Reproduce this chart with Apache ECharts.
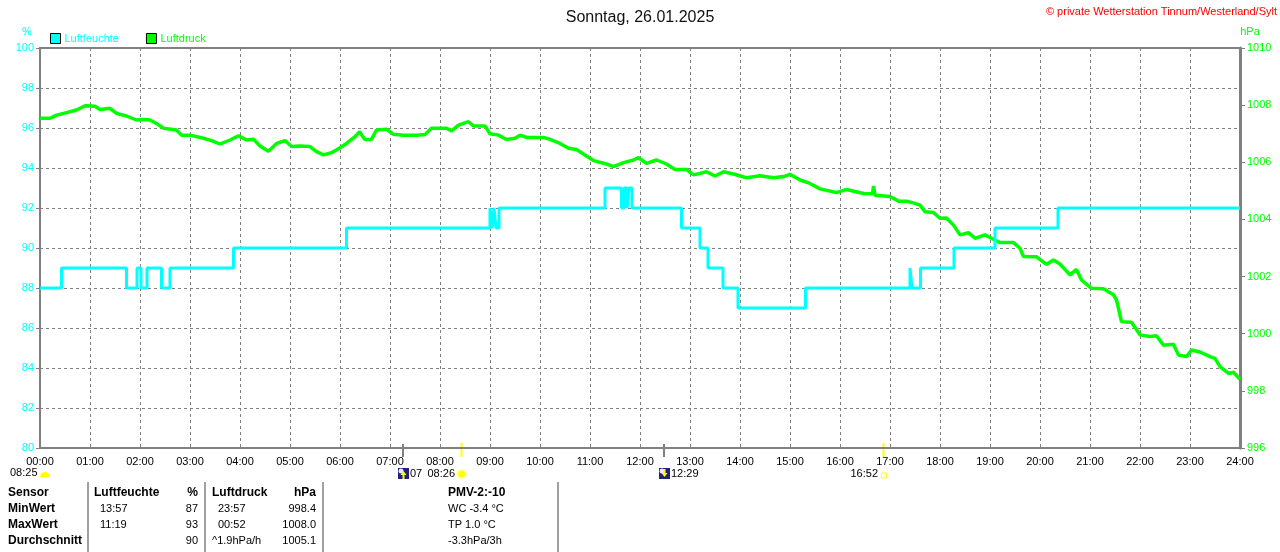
<!DOCTYPE html>
<html>
<head>
<meta charset="utf-8">
<script src="https://cdn.jsdelivr.net/npm/echarts@6/dist/echarts.min.js"></script>
<style>
  html, body { margin: 0; padding: 0; background: #fff; }
  #chart { width: 1280px; height: 552px; }
</style>
</head>
<body>
<div id="chart"></div>
<script>
// x-axis labels (hours)
var hourLabels = ["00:00", "01:00", "02:00", "03:00", "04:00", "05:00", "06:00", "07:00", "08:00",
  "09:00", "10:00", "11:00", "12:00", "13:00", "14:00", "15:00", "16:00", "17:00", "18:00",
  "19:00", "20:00", "21:00", "22:00", "23:00", "24:00"];

// Luftfeuchte (%) - value starts at given hour
var humTime = [0, 0.43, 1.73, 1.94, 2.02, 2.14, 2.43, 2.6, 3.87, 6.13, 9.0, 9.04, 9.08, 9.12, 9.18,
  11.3, 11.63, 11.68, 11.74, 11.78, 11.84, 12.83, 13.2, 13.36, 13.66, 13.96, 15.31,
  17.4, 17.44, 17.61, 18.28, 19.1, 20.36, 24];
var humValue = [88, 89, 88, 89, 88, 89, 88, 89, 90, 91, 92, 91, 92, 91, 92,
  93, 92, 93, 92, 93, 92, 91, 90, 89, 88, 87, 88,
  89, 88, 89, 90, 91, 92, 92];

// Luftdruck (hPa)
var presTime = [0, 0.2, 0.33, 0.47, 0.73, 0.9, 1.1, 1.2, 1.4, 1.53, 1.73, 1.93, 2.07, 2.2, 2.33, 2.47,
  2.73, 2.83, 3.0, 3.27, 3.43, 3.6, 3.8, 3.97, 4.13, 4.27, 4.4, 4.57, 4.73, 4.9, 5.03, 5.2, 5.4,
  5.53, 5.67, 5.83, 5.93, 6.13, 6.3, 6.39, 6.5, 6.63, 6.73, 6.93, 7.07, 7.27, 7.53, 7.7, 7.83,
  8.13, 8.23, 8.37, 8.57, 8.67, 8.9, 9.0, 9.17, 9.33, 9.5, 9.6, 9.73, 10.07, 10.2, 10.4, 10.57,
  10.73, 10.93, 11.07, 11.33, 11.47, 11.67, 11.87, 11.97, 12.13, 12.33, 12.53, 12.7, 12.93,
  13.07, 13.33, 13.5, 13.67, 13.87, 14.13, 14.4, 14.67, 14.87, 15.0, 15.2, 15.4, 15.6, 15.93,
  16.13, 16.47, 16.65, 16.67, 16.7, 17.0, 17.17, 17.33, 17.5, 17.6, 17.7, 17.87, 18.0, 18.13,
  18.27, 18.4, 18.57, 18.7, 18.9, 19.03, 19.2, 19.47, 19.6, 19.67, 19.93, 20.13, 20.27, 20.4,
  20.6, 20.73, 20.83, 21.03, 21.27, 21.47, 21.53, 21.63, 21.83, 22.0, 22.2, 22.33, 22.47,
  22.67, 22.77, 22.93, 23.03, 23.2, 23.4, 23.5, 23.6, 23.77, 23.87, 24.0];
var presValue = [1007.54, 1007.54, 1007.65, 1007.71, 1007.83, 1007.98, 1007.96, 1007.85, 1007.89,
  1007.71, 1007.62, 1007.48, 1007.5, 1007.48, 1007.36, 1007.19, 1007.13, 1006.95, 1006.95,
  1006.84, 1006.76, 1006.64, 1006.78, 1006.93, 1006.78, 1006.81, 1006.57, 1006.39, 1006.66,
  1006.76, 1006.55, 1006.57, 1006.55, 1006.37, 1006.26, 1006.34, 1006.43, 1006.66, 1006.9,
  1007.07, 1006.8, 1006.8, 1007.13, 1007.16, 1006.98, 1006.95, 1006.95, 1006.97, 1007.19,
  1007.19, 1007.1, 1007.3, 1007.42, 1007.27, 1007.27, 1007.0, 1006.95, 1006.8, 1006.84,
  1006.95, 1006.87, 1006.87, 1006.8, 1006.66, 1006.49, 1006.45, 1006.22, 1006.06, 1005.94,
  1005.85, 1005.99, 1006.08, 1006.16, 1005.96, 1006.08, 1005.94, 1005.75, 1005.75, 1005.56,
  1005.67, 1005.52, 1005.67, 1005.59, 1005.46, 1005.53, 1005.46, 1005.5, 1005.58, 1005.38,
  1005.26, 1005.07, 1004.94, 1005.05, 1004.91, 1004.9, 1005.17, 1004.85, 1004.8, 1004.64,
  1004.64, 1004.56, 1004.5, 1004.27, 1004.24, 1004.04, 1004.05, 1003.8, 1003.46, 1003.54,
  1003.34, 1003.46, 1003.34, 1003.19, 1003.19, 1002.99, 1002.7, 1002.69, 1002.43, 1002.58,
  1002.44, 1002.06, 1002.25, 1001.88, 1001.59, 1001.57, 1001.36, 1001.18, 1000.42, 1000.4,
  999.96, 999.9, 999.93, 999.6, 999.63, 999.25, 999.2, 999.43, 999.36, 999.2, 999.14,
  998.85, 998.61, 998.65, 998.4];

// Mond-/Sonnenmarken auf der Zeitachse
var astroTime = [7.26, 8.43, 12.48, 16.87];
var astroColor = ["#808080", "#ffff00", "#808080", "#ffff00"];

// Tabelle unten
var colSensor = ["Sensor", "MinWert", "MaxWert", "Durchschnitt"];
var colHumTime = ["Luftfeuchte", "13:57", "11:19", ""];
var colHumVal = ["%", "87", "93", "90"];
var colPresTime = ["Luftdruck", "23:57", "00:52", "^1.9hPa/h"];
var colPresVal = ["hPa", "998.4", "1008.0", "1005.1"];
var colInfo = ["PMV-2:-10", "WC -3.4 \u00b0C", "TP 1.0 \u00b0C", "-3.3hPa/3h"];

var FONT = "'Liberation Sans', Arial, sans-serif";
var chart = echarts.init(document.getElementById("chart"));

function zip(a, b) {
  return a.map(function(v, i) { return [v, b[i]]; });
}

chart.setOption({
  animation: false,
  backgroundColor: "#fff",
  textStyle: { fontFamily: FONT },
  title: {
    text: "Sonntag, 26.01.2025",
    left: "center",
    top: 5,
    textStyle: { fontSize: 16, fontWeight: "normal", color: "#111", fontFamily: FONT }
  },
  legend: {
    left: 50,
    top: 33,
    padding: 0,
    icon: "rect",
    itemWidth: 10,
    itemHeight: 10,
    itemGap: 27,
    itemStyle: { borderColor: "#000", borderWidth: 1 },
    textStyle: { fontSize: 11, fontFamily: FONT, padding: [0, 0, 0, -1] },
    data: [
      { name: "Luftfeuchte", textStyle: { color: "#00ffff" } },
      { name: "Luftdruck", textStyle: { color: "#00ff00" } }
    ]
  },
  grid: {
    left: 40,
    right: 40,
    top: 48,
    bottom: 104,
    show: true,
    borderColor: "#808080",
    borderWidth: 2
  },
  xAxis: {
    type: "value",
    min: 0,
    max: 24,
    interval: 1,
    axisLine: { lineStyle: { color: "#808080", width: 2 } },
    axisTick: { show: false },
    axisLabel: {
      color: "#000",
      fontSize: 11,
      margin: 8,
      fontFamily: FONT,
      formatter: function(v) { return hourLabels[v]; }
    },
    splitLine: { show: true, lineStyle: { color: "#808080", type: [3, 3], width: 1 } }
  },
  yAxis: [
    {
      type: "value",
      position: "left",
      min: 80,
      max: 100,
      interval: 2,
      axisLine: { show: true, lineStyle: { color: "#808080", width: 2 } },
      axisTick: { show: true, length: 4, lineStyle: { color: "#808080" } },
      axisLabel: { color: "#00ffff", fontSize: 11, margin: 6, fontFamily: FONT },
      splitLine: { show: true, lineStyle: { color: "#808080", type: [3, 3], width: 1 } }
    },
    {
      type: "value",
      position: "right",
      min: 996,
      max: 1010,
      interval: 2,
      axisLine: { show: true, lineStyle: { color: "#808080", width: 3 } },
      axisTick: { show: true, length: 5, lineStyle: { color: "#808080" } },
      axisLabel: {
        color: "#00ff00", fontSize: 11, margin: 7, fontFamily: FONT,
        formatter: function(v) { return String(v); }
      },
      splitLine: { show: false }
    }
  ],
  series: [
    {
      name: "Luftdruck",
      type: "line",
      yAxisIndex: 1,
      showSymbol: false,
      color: "#00ff00",
      lineStyle: { color: "#00ff00", width: 3.5 },
      data: zip(presTime, presValue)
    },
    {
      name: "Luftfeuchte",
      type: "line",
      yAxisIndex: 0,
      step: "end",
      showSymbol: false,
      color: "#00ffff",
      lineStyle: { color: "#00ffff", width: 3 },
      data: zip(humTime, humValue)
    }
  ]
});

// Zusatzgrafik: Achsentitel, Copyright, Mond/Sonne, Tabelle
function txt(s, x, y, opt) {
  opt = opt || {};
  return {
    type: "text",
    silent: true,
    style: {
      text: s,
      x: x,
      y: y,
      fill: opt.color || "#000",
      font: (opt.bold ? "bold 12px " : "11px ") + FONT,
      align: opt.align || "left",
      verticalAlign: "middle"
    }
  };
}

var g = [];
g.push(txt("%", 27, 32, { color: "#00ffff", align: "center" }));
g.push(txt("hPa", 1250, 32, { color: "#00ff00", align: "center" }));
g.push(txt("\u00a9 private Wetterstation Tinnum/Westerland/Sylt", 1277, 12, { color: "#ff0000", align: "right" }));

var yAxisPx = chart.convertToPixel({ yAxisIndex: 0 }, 80);
var ax = astroTime.map(function(t) { return chart.convertToPixel({ xAxisIndex: 0 }, t); });

ax.forEach(function(x, i) {
  var gray = astroColor[i] === "#808080";
  g.push({
    type: "line", silent: true,
    shape: { x1: x, y1: yAxisPx - (gray ? 4 : 5), x2: x, y2: yAxisPx + 9 },
    style: { stroke: astroColor[i], lineWidth: 2 }
  });
});

function moonIcon(x, y, up) {
  g.push({ type: "rect", silent: true, shape: { x: x, y: y, width: 11, height: 11 }, style: { fill: "#202080" } });
  g.push({ type: "circle", silent: true, shape: { cx: x + 3, cy: y + 3, r: 2.5 }, style: { fill: "#e8e8ff" } });
  var pts = up
    ? [[x + 5.5, y + 3], [x + 8.5, y + 7], [x + 6.5, y + 7], [x + 6.5, y + 11], [x + 4.5, y + 11], [x + 4.5, y + 7], [x + 2.5, y + 7]]
    : [[x + 5.5, y + 9], [x + 8.5, y + 5], [x + 6.5, y + 5], [x + 6.5, y + 1], [x + 4.5, y + 1], [x + 4.5, y + 5], [x + 2.5, y + 5]];
  g.push({ type: "polygon", silent: true, shape: { points: pts }, style: { fill: "#ffff00" } });
}

// Sonnenaufgang links
g.push(txt("08:25", 10, 473));
g.push({ type: "sector", silent: true, shape: { cx: 45, cy: 477, r: 5, startAngle: Math.PI, endAngle: 2 * Math.PI }, style: { fill: "#ffff00" } });

// Mondaufgang 07:07
moonIcon(ax[0] - 5, 468, true);
g.push(txt("07", ax[0] + 7, 474));
// Sonnenaufgang 08:26
g.push(txt("08:26", ax[1] - 34, 474));
g.push({ type: "circle", silent: true, shape: { cx: ax[1], cy: 474, r: 5.5 }, style: { fill: "#ffffc0" } });
g.push({ type: "circle", silent: true, shape: { cx: ax[1], cy: 474, r: 3.5 }, style: { fill: "#ffff00" } });
// Monduntergang 12:29
moonIcon(ax[2] - 5, 468, false);
g.push(txt("12:29", ax[2] + 7, 474));
// Sonnenuntergang 16:52
g.push(txt("16:52", ax[3] - 33, 474));
g.push({ type: "rect", silent: true, shape: { x: ax[3] - 2, y: 473, width: 5, height: 5 }, style: { fill: "none", stroke: "#ffff00", lineWidth: 1 } });

// Tabelle
[88, 205, 323, 558].forEach(function(x) {
  g.push({ type: "line", silent: true, shape: { x1: x, y1: 482, x2: x, y2: 552 }, style: { stroke: "#a0a0a0", lineWidth: 2 } });
});
var rowY = [493, 509, 525, 541];
rowY.forEach(function(y, r) {
  var head = r === 0;
  g.push(txt(colSensor[r], 8, y, { bold: true }));
  g.push(txt(colHumTime[r], head ? 94 : 100, y, { bold: head }));
  g.push(txt(colHumVal[r], 198, y, { bold: head, align: "right" }));
  g.push(txt(colPresTime[r], (head || r === 3) ? 212 : 218, y, { bold: head }));
  g.push(txt(colPresVal[r], 316, y, { bold: head, align: "right" }));
  g.push(txt(colInfo[r], 448, y, { bold: head }));
});

chart.setOption({ graphic: g });
</script>
</body>
</html>
